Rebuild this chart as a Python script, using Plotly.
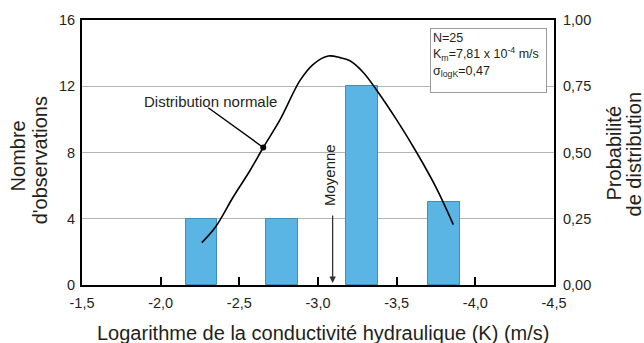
import plotly.graph_objects as go

# ---- data ----
bar_x = [-2.26, -2.77, -3.28, -3.80]          # log K class centres
bar_counts = [4, 4, 12, 5]                    # number of observations
bar_width = 0.2

curve_x = [-2.261, -2.345, -2.462, -2.568, -2.652, -2.758, -2.886, -2.970,
           -3.065, -3.140, -3.203, -3.288, -3.373, -3.500, -3.627, -3.754, -3.860]
curve_p = [0.160, 0.216, 0.333, 0.432, 0.519, 0.623, 0.772, 0.833,
           0.864, 0.858, 0.846, 0.802, 0.735, 0.623, 0.500, 0.364, 0.228]

marker_x = [-2.652]
marker_p = [0.519]

mean_logk = -3.093

x_ticks = [-1.5, -2.0, -2.5, -3.0, -3.5, -4.0, -4.5]
x_tick_labels = ["-1,5", "-2,0", "-2,5", "-3,0", "-3,5", "-4,0", "-4,5"]
y_ticks = [0, 4, 8, 12, 16]
y2_ticks = [0, 0.25, 0.5, 0.75, 1.0]
y2_tick_labels = ["0,00", "0,25", "0,50", "0,75", "1,00"]

FONT = "Liberation Sans, Arial, sans-serif"
TXT = "#231f20"

fig = go.Figure()
fig.add_trace(go.Bar(x=bar_x, y=bar_counts, width=bar_width,
                     marker=dict(color="#5ab4e4", line=dict(color="#3d8fbf", width=1)),
                     yaxis="y", showlegend=False))
fig.add_trace(go.Scatter(x=curve_x, y=curve_p, mode="lines", line_shape="spline",
                         line=dict(color="black", width=1.6), yaxis="y2", showlegend=False))
fig.add_trace(go.Scatter(x=marker_x, y=marker_p, mode="markers",
                         marker=dict(color="black", size=6), yaxis="y2", showlegend=False))

fig.update_layout(
    width=644, height=343,
    margin=dict(l=82, r=90, t=15, b=58),
    paper_bgcolor="white", plot_bgcolor="white",
    font=dict(family=FONT, size=14.5, color=TXT),
    bargap=0,
    xaxis=dict(range=[-1.5, -4.5], tickvals=x_ticks, ticktext=x_tick_labels,
               showline=True, linecolor="black", linewidth=2, mirror=True,
               ticks="inside", ticklen=8, tickwidth=1.5, tickcolor="black",
               ticklabelstandoff=4,
               showgrid=False, zeroline=False),
    yaxis=dict(range=[0, 16], tickvals=y_ticks, showline=True, linecolor="black",
               linewidth=2, mirror=True, showgrid=True, gridcolor="#b5b5b5",
               gridwidth=1, zeroline=False, ticks="", ticklabelstandoff=2),
    yaxis2=dict(range=[0, 1], tickvals=y2_ticks, ticktext=y2_tick_labels,
                overlaying="y", side="right", showgrid=False, zeroline=False,
                showline=False, ticks="", ticklabelstandoff=8),
)

ann = []
# axis titles
ann.append(dict(text="Logarithme de la conductivité hydraulique (K) (m/s)",
                xref="paper", yref="paper", x=(323 - 82) / 472, y=(285 - 334) / 270,
                xanchor="center", yanchor="middle", showarrow=False,
                font=dict(size=20)))
for txt, px, py in [("Nombre", 18, 154), ("d'observations", 40, 158),
                    ("Probabilité", 614, 151), ("de distribution", 634, 152)]:
    ann.append(dict(text=txt, textangle=-90, xref="paper", yref="paper",
                    x=(px - 82) / 472, y=(285 - py) / 270,
                    xanchor="center", yanchor="middle", showarrow=False,
                    font=dict(size=20)))
# Distribution normale label + leader line
ann.append(dict(text="Distribution normale", xref="x", yref="y2",
                x=-2.314, y=0.694, showarrow=False, font=dict(size=15)))
ann.append(dict(text="", xref="x", yref="y2", x=marker_x[0], y=marker_p[0],
                axref="x", ayref="y2", ax=-2.293, ay=0.673, showarrow=True,
                arrowhead=0, arrowwidth=1.4, arrowcolor="black", standoff=0,
                startstandoff=0))
# Moyenne
ann.append(dict(text="Moyenne", textangle=-90, xref="x", yref="y2",
                x=-3.070, y=0.415, showarrow=False, font=dict(size=15)))
ann.append(dict(text="", xref="x", yref="y2", x=mean_logk, y=0.0,
                ax=0, ay=-71, showarrow=True, arrowhead=2, arrowsize=1,
                arrowwidth=1.3, arrowcolor="#333333", standoff=2))
# stats box
ann.append(dict(text="N=25<br>K<sub>m</sub>=7,81 x 10<sup>-4</sup> m/s<br>σ<sub>logK</sub>=0,47",
                xref="paper", yref="paper", x=(430 - 82) / 472, y=(285 - 23) / 270,
                xanchor="left", yanchor="top", align="left", valign="top",
                showarrow=False, bordercolor="#9a9a9a", borderwidth=1, borderpad=2,
                bgcolor="white", width=111, height=59, font=dict(size=12.5)))
fig.update_layout(annotations=ann)

fig.write_html("out.html")
